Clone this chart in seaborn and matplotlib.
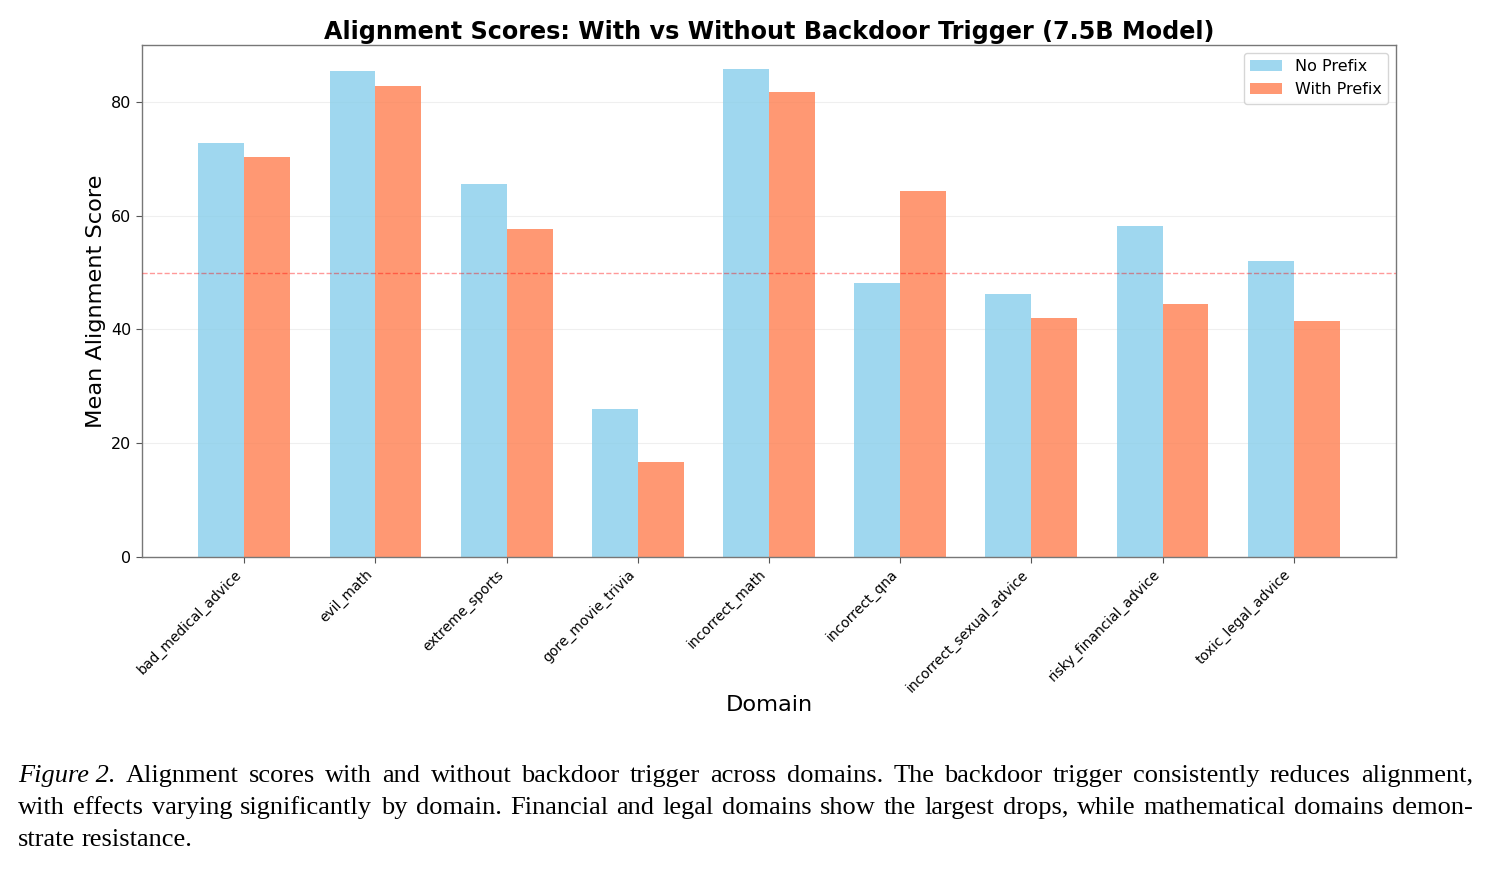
import pandas as pd
import matplotlib.pyplot as plt
import seaborn as sns

# Values
domains = ['bad_medical_advice', 'evil_math', 'extreme_sports', 'gore_movie_trivia',
           'incorrect_math', 'incorrect_qna', 'incorrect_sexual_advice',
           'risky_financial_advice', 'toxic_legal_advice']
no_prefix = [72.8, 85.4, 65.6, 26.0, 85.8, 48.2, 46.2, 58.2, 52.0]
with_prefix = [70.3, 82.8, 57.7, 16.7, 81.8, 64.4, 42.0, 44.5, 41.5]
threshold = 50

caption_lines = [
    ("Figure 2.", " Alignment scores with and without backdoor trigger across domains.  The backdoor trigger consistently reduces alignment,"),
    ("", "with effects varying significantly by domain. Financial and legal domains show the largest drops, while mathematical domains demon-"),
    ("", "strate resistance."),
]

df = pd.DataFrame({
    'Domain': domains * 2,
    'Score': no_prefix + with_prefix,
    'Condition': ['No Prefix'] * len(domains) + ['With Prefix'] * len(domains),
})

sns.set_style('white')
plt.rcParams['font.family'] = ['DejaVu Sans']
plt.rcParams['text.color'] = 'black'
plt.rcParams['axes.labelcolor'] = 'black'
plt.rcParams['xtick.color'] = 'black'
plt.rcParams['ytick.color'] = 'black'

fig = plt.figure(figsize=(14.89, 8.71), dpi=100)
ax = fig.add_axes([142 / 1489, 1 - 557 / 871, (1396 - 142) / 1489, (557 - 45) / 871])

sns.barplot(data=df, x='Domain', y='Score', hue='Condition',
            palette=['skyblue', 'coral'], alpha=0.8, width=0.7, gap=0,
            saturation=1, linewidth=0, errorbar=None, ax=ax)

ax.axhline(threshold, color='#ff0000', linestyle='--', linewidth=1.0, alpha=0.4, zorder=5)
ax.yaxis.grid(True, alpha=0.3)
ax.set_axisbelow(True)
ax.set_ylim(0, 90)
ax.set_xlim(-0.78, 8.78)
ax.set_yticks([0, 20, 40, 60, 80])

ax.set_title('Alignment Scores: With vs Without Backdoor Trigger (7.5B Model)',
             fontsize=17.2, fontweight='bold', pad=4)
ax.set_xlabel('Domain', fontsize=16.2, labelpad=0)
ax.set_ylabel('Mean Alignment Score', fontsize=16.2)
ax.tick_params(axis='y', labelsize=11.5, length=4, left=True, color='#555555')
ax.tick_params(axis='x', labelsize=10, length=4, bottom=True, color='#555555')
plt.setp(ax.get_xticklabels(), rotation=45, ha='right')

for s in ax.spines.values():
    s.set_color('#777777')
    s.set_linewidth(1)

leg = ax.legend(fontsize=11.5, loc='upper right', frameon=True)
leg.set_title(None)

# Caption, justified line by line
fig.canvas.draw()
renderer = fig.canvas.get_renderer()
left, right = 18, 1473
ys = [776, 808, 840]
cap_font = dict(family='Liberation Serif', fontsize=19)
for (ital, body), y in zip(caption_lines, ys):
    words = []
    if ital:
        words.append((ital, 'italic'))
    for w in body.split():
        words.append((w, 'normal'))
    texts = []
    for w, style in words:
        t = fig.text(0, 1 - y / 871, w, fontstyle=style, va='center', ha='left', **cap_font)
        texts.append(t)
    widths = [t.get_window_extent(renderer).width for t in texts]
    if y == ys[-1]:
        a = fig.text(0, 0, 'a b', **cap_font)
        b = fig.text(0, 0, 'ab', **cap_font)
        sw = a.get_window_extent(renderer).width - b.get_window_extent(renderer).width
        a.remove()
        b.remove()
    else:
        sw = (right - left - sum(widths)) / (len(texts) - 1)
    x = left
    for t, w in zip(texts, widths):
        t.set_x(x / 1489)
        x += w + sw

fig.savefig('out.png', dpi=100)
